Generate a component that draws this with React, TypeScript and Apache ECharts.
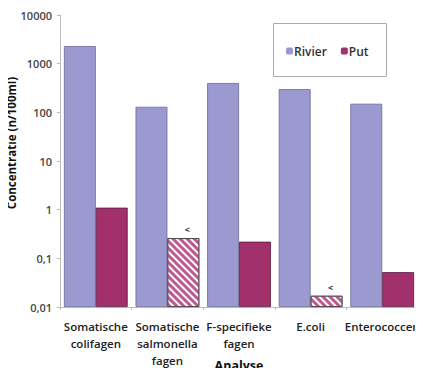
import React, { useEffect, useRef } from "react";
import * as echarts from "echarts";

const categories = [
  "Somatische\ncolifagen",
  "Somatische\nsalmonella\nfagen",
  "F-specifieke\nfagen",
  "E.coli",
  "Enterococcen",
];
const rivierValues = [2300, 130, 400, 300, 150];
const putValues = [1.1, 0.26, 0.22, 0.017, 0.052];
// true = below detection limit ("<"), drawn hatched
const putBelowLimit = [false, true, false, true, false];
const yTickLabels = ["0,01", "0,1", "1", "10", "100", "1000", "10000"];

const RIVIER = "#9a9ad0";
const PUT = "#a2306d";
const FONT = "'Open Sans', 'Noto Sans', sans-serif";

export default function App() {
  const ref = useRef<HTMLDivElement>(null);
  useEffect(() => {
    if (!ref.current) return;
    const chart = echarts.init(ref.current, null, { renderer: "svg" });
    const tickMap: Record<string, string> = {};
    [0.01, 0.1, 1, 10, 100, 1000, 10000].forEach((v, i) => {
      tickMap[String(v)] = yTickLabels[i];
    });
    chart.setOption({
      animation: false,
      backgroundColor: "#fff",
      textStyle: { fontFamily: FONT },
      grid: { left: 60, right: 5, top: 15, bottom: 69, outerBoundsMode: "none", containLabel: false },
      legend: {
        left: 286,
        top: 45,
        orient: "horizontal",
        padding: 0,
        itemWidth: 7,
        itemHeight: 7,
        itemGap: 14,
        borderWidth: 0,
        textStyle: { fontSize: 12, color: "#333", fontWeight: 600, padding: [0, 0, 0, -4] },
        data: [
          { name: "Rivier", itemStyle: { color: RIVIER, borderWidth: 0 } },
          { name: "Put", itemStyle: { color: PUT, borderWidth: 0 } },
        ],
      },
      xAxis: {
        type: "category",
        data: categories,
        name: "Analyse",
        nameLocation: "middle",
        nameGap: 52,
        nameMoveOverlap: false,
        nameTextStyle: { fontSize: 12.5, fontWeight: "bold", color: "#111", fontFamily: FONT },
        axisLine: { lineStyle: { color: "#bbb" } },
        axisTick: { show: true, length: 3, lineStyle: { color: "#bbb" } },
        axisLabel: {
          interval: 0,
          fontSize: 11.5,
          fontWeight: 600,
          color: "#222",
          lineHeight: 17,
          margin: 11,
          fontFamily: FONT,
        },
      },
      yAxis: {
        type: "log",
        logBase: 10,
        min: 0.01,
        max: 10000,
        startValue: 0.01,
        axisLine: { show: true, lineStyle: { color: "#bbb" } },
        axisTick: { show: true, length: 3, lineStyle: { color: "#bbb" } },
        splitLine: { show: false },
        axisLabel: {
          fontSize: 11,
          fontWeight: 600,
          color: "#444",
          margin: 8,
          fontFamily: FONT,
          formatter: (v: number) => {
            const key = String(Number(v.toPrecision(6)));
            return tickMap[key] ?? String(v).replace(".", ",");
          },
        },
      },
      graphic: [
        {
          type: "rect",
          shape: { x: 273.5, y: 23.5, width: 113, height: 53 },
          style: { fill: "none", stroke: "#aaa", lineWidth: 1 },
        },
        {
          type: "text",
          x: 11,
          y: 143,
          rotation: Math.PI / 2,
          style: {
            text: "Concentratie (n/100ml)",
            fontSize: 11.5,
            fontWeight: "bold",
            fill: "#111",
            fontFamily: FONT,
            align: "center",
            verticalAlign: "middle",
          },
        },
      ],
      series: [
        {
          name: "Rivier",
          type: "bar",
          data: rivierValues,
          barGap: "0%",
          barCategoryGap: "11%",
          itemStyle: { color: RIVIER, borderColor: "#6a6a98", borderWidth: 0.8 },
        },
        {
          name: "Put",
          type: "bar",
          data: putValues.map((v, i) =>
            putBelowLimit[i]
              ? {
                  value: v,
                  itemStyle: {
                    color: "#fff",
                    borderColor: "#444",
                    borderWidth: 0.8,
                    decal: {
                      symbol: "rect",
                      color: "#c0588f",
                      dashArrayX: [1, 0],
                      dashArrayY: [2.2, 2],
                      rotation: Math.PI / 4,
                    },
                  },
                  label: {
                    show: true,
                    position: "top",
                    formatter: "<",
                    offset: [4, 1],
                    fontSize: 9,
                    fontWeight: "bold",
                    color: "#333",
                  },
                }
              : { value: v }
          ),
          itemStyle: { color: PUT, borderColor: "#5a1a3c", borderWidth: 0.8 },
        },
      ],
    });
    return () => chart.dispose();
  }, []);
  return <div ref={ref} style={{ width: 423, height: 376, margin: -8 }} />;
}
